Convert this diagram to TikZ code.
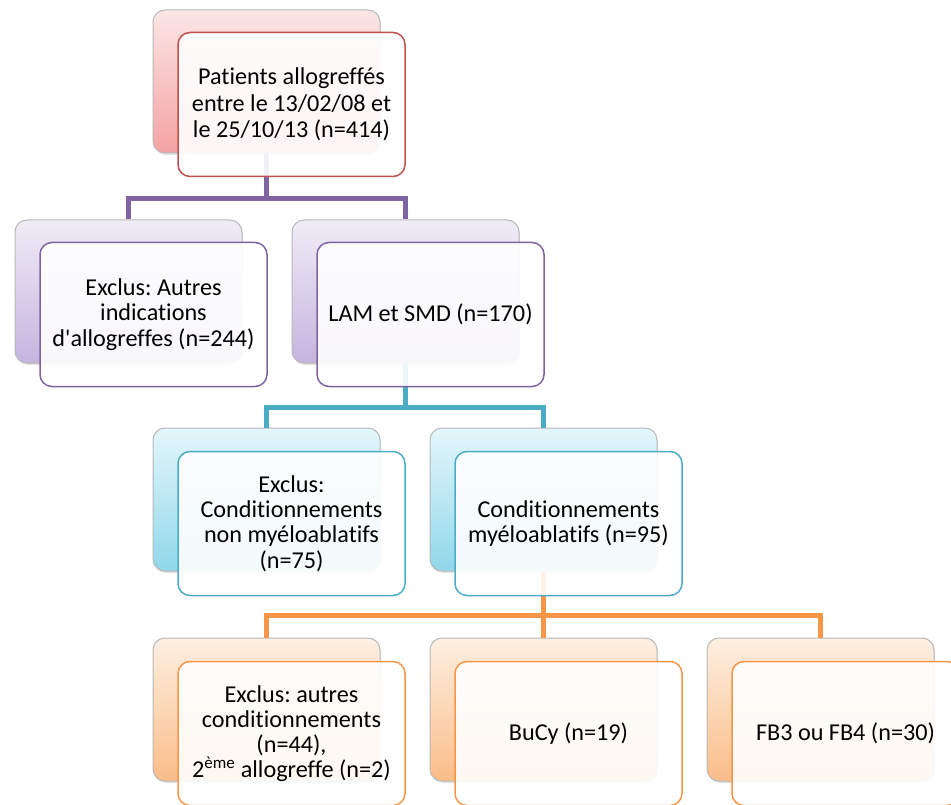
\documentclass[tikz,border=0pt]{standalone}
\usepackage{fontspec}
\setmainfont{Carlito}[Ligatures={NoCommon}]
\usetikzlibrary{shadows}
\definecolor{redline}{HTML}{C0504D}
\definecolor{redtop}{HTML}{FCE6E6}
\definecolor{redbot}{HTML}{F4A2A2}
\definecolor{purline}{HTML}{8064A2}
\definecolor{purtop}{HTML}{F0ECF7}
\definecolor{purbot}{HTML}{C5B4DE}
\definecolor{tealline}{HTML}{4BACC6}
\definecolor{tealtop}{HTML}{E4F6FB}
\definecolor{tealbot}{HTML}{90D8EA}
\definecolor{oraline}{HTML}{F79646}
\definecolor{oratop}{HTML}{FDEFE2}
\definecolor{orabot}{HTML}{FBBD88}
\frenchspacing
\tikzset{
  backbox/.style={rectangle, rounded corners=12pt, minimum width=227pt, minimum height=143pt,
    inner sep=0pt, draw=black!28, line width=1pt,
    drop shadow={opacity=0.22, shadow xshift=1pt, shadow yshift=-2pt}},
  frontbox/.style={rectangle, rounded corners=12pt, minimum width=227pt, minimum height=144pt,
    inner sep=0pt, line width=1.5pt, fill=white, fill opacity=0.9, text opacity=1,
    align=center, font=\fontsize{24.2}{25.2}\selectfont\frenchspacing},
  conn/.style={line width=5pt, line join=miter}
}
\begin{document}
\begin{tikzpicture}[x=1pt,y=-1pt]
\useasboundingbox (0,0) rectangle (951,805);
% back boxes
\node[backbox, top color=redtop, bottom color=redbot] (top-b) at (266.5,81.5) {};
\node[backbox, top color=purtop, bottom color=purbot] (l2a-b) at (128.5,291.5) {};
\node[backbox, top color=purtop, bottom color=purbot] (l2b-b) at (405.5,291.5) {};
\node[backbox, top color=tealtop, bottom color=tealbot] (l3a-b) at (266.5,499.5) {};
\node[backbox, top color=tealtop, bottom color=tealbot] (l3b-b) at (543.5,499.5) {};
\node[backbox, top color=oratop, bottom color=orabot] (l4a-b) at (266.5,709.5) {};
\node[backbox, top color=oratop, bottom color=orabot] (l4b-b) at (543.5,709.5) {};
\node[backbox, top color=oratop, bottom color=orabot] (l4c-b) at (820.5,709.5) {};
% connectors
\draw[conn, purline] (top-b.south) -- ++(0,45) -| (l2a-b.north);
\draw[conn, purline] (top-b.south) -- ++(0,45) -| (l2b-b.north);
\draw[conn, tealline] (l2b-b.south) -- ++(0,44) -| (l3a-b.north);
\draw[conn, tealline] (l2b-b.south) -- ++(0,44) -| (l3b-b.north);
\draw[conn, oraline] (l3b-b.south) -- ++(0,44) -| (l4a-b.north);
\draw[conn, oraline] (l3b-b.south) -- (l4b-b.north);
\draw[conn, oraline] (l3b-b.south) -- ++(0,44) -| (l4c-b.north);
% front boxes
\node[frontbox, draw=redline, font=\fontsize{24.2}{26.6}\selectfont\frenchspacing] (top) at (291.5,104.5)
  {Patients allogreffés\\entre le 13/02/08 et\\le 25/10/13 (n=414)};
\node[frontbox, draw=purline] (l2a) at (153.5,314.5)
  {Exclus: Autres\\indications\\d\textquotesingle allogreffes (n=244)};
\node[frontbox, draw=purline] (l2b) at (430.5,314.5) {LAM et SMD (n=170)};
\node[frontbox, draw=tealline] (l3a) at (291.5,523.5)
  {Exclus:\\Conditionnements\\non myéloablatifs\\(n=75)};
\node[frontbox, draw=tealline] (l3b) at (568.5,523.5)
  {Conditionnements\\myéloablatifs (n=95)};
\node[frontbox, draw=oraline] (l4a) at (291.5,733.5)
  {Exclus: autres\\conditionnements\\(n=44),\\2\textsuperscript{ème} allogreffe (n=2)};
\node[frontbox, draw=oraline] (l4b) at (568.5,733.5) {BuCy (n=19)};
\node[frontbox, draw=oraline] (l4c) at (845.5,733.5) {FB3 ou FB4 (n=30)};
\end{tikzpicture}
\end{document}
